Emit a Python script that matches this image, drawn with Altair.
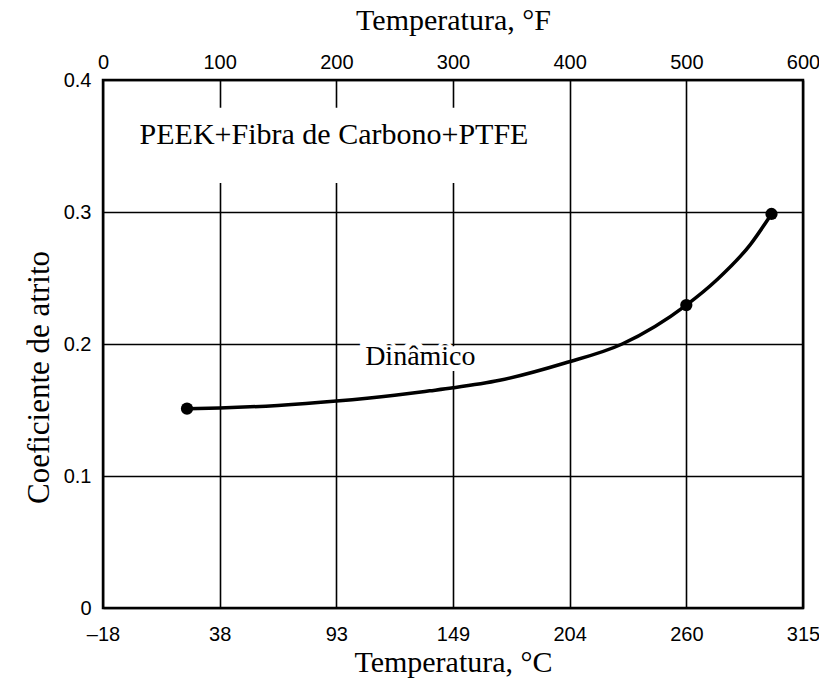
import altair as alt
import pandas as pd

# Curve readings (temperature in °F, friction coefficient)
curve_f = [72, 100, 150, 200, 250, 280, 300, 340, 396, 445, 500, 526, 555, 573]
curve_mu = [0.151, 0.1515, 0.1535, 0.1568, 0.1612, 0.1645, 0.1668, 0.1725, 0.1856, 0.200, 0.2295, 0.2485, 0.2755, 0.2985]
# Marked measurement points
dot_f = [72, 500, 573]
dot_mu = [0.151, 0.2295, 0.2985]

f_ticks = [0, 100, 200, 300, 400, 500, 600]
c_labels = ["\u201318", "38", "93", "149", "204", "260", "315"]
y_ticks = [0, 0.1, 0.2, 0.3, 0.4]

label_text = ["PEEK+Fibra de Carbono+PTFE", "Dinâmico"]
label_f = [198, 272]
label_mu = [0.358, 0.190]
label_size = [30, 28]
# white box behind the title label (data units)
box_f = [20]
box_f2 = [392]
box_mu = [0.322]
box_mu2 = [0.379]

curve_df = pd.DataFrame({"F": curve_f, "mu": curve_mu})
dot_df = pd.DataFrame({"F": dot_f, "mu": dot_mu})
label_df = pd.DataFrame({"F": label_f, "mu": label_mu, "t": label_text, "s": label_size})
box_df = pd.DataFrame({"F": box_f, "F2": box_f2, "mu": box_mu, "mu2": box_mu2})

c_expr = "[" + ",".join("'" + s + "'" for s in c_labels) + "][round(datum.value/100)]"

xscale = alt.Scale(domain=[0, 600], nice=False, zero=False)
yscale = alt.Scale(domain=[0, 0.4], nice=False)

LABEL_FONT = "Liberation Sans"
TITLE_FONT = "Liberation Serif"

x_bottom = alt.X("F:Q", scale=xscale, axis=alt.Axis(
    orient="bottom", values=f_ticks, labelExpr=c_expr, title="Temperatura, °C",
    grid=True, gridColor="black", gridWidth=1.6, gridOpacity=1, ticks=False,
    domain=False, labelFont=LABEL_FONT, labelFontSize=20, labelColor="black",
    labelPadding=16, titleFont=TITLE_FONT, titleFontSize=30, titleFontWeight="normal",
    titleColor="black", titlePadding=3, labelFlush=False))
y_axis = alt.Y("mu:Q", scale=yscale, axis=alt.Axis(
    values=y_ticks, labelExpr="datum.value == 0 ? '0' : format(datum.value, '.1f')",
    title="Coeficiente de atrito", grid=True, gridColor="black", gridWidth=1.6, gridOpacity=1,
    ticks=False, domain=False, labelFont=LABEL_FONT, labelFontSize=20, labelColor="black",
    labelPadding=12, titleFont=TITLE_FONT, titleFontSize=31, titleFontWeight="normal",
    titleColor="black", titlePadding=8, titleY=297, labelFlush=False))

grid_layer = alt.Chart(curve_df).mark_point(opacity=0).encode(x=x_bottom, y=y_axis)

top_axis_layer = alt.Chart(curve_df).mark_point(opacity=0).encode(
    x=alt.X("F:Q", scale=xscale, axis=alt.Axis(
        orient="top", values=f_ticks, format="d", title="Temperatura,  °F", grid=False,
        ticks=False, domain=False, labelFont=LABEL_FONT, labelFontSize=20,
        labelColor="black", labelPadding=8, titleFont=TITLE_FONT, titleFontSize=30,
        titleFontWeight="normal", titleColor="black", titlePadding=17, labelFlush=False)),
    y=alt.Y("mu:Q", scale=yscale))

xn = lambda f: alt.X(f, scale=xscale, axis=None)
yn = lambda f: alt.Y(f, scale=yscale)

box = alt.Chart(box_df).mark_rect(color="white", opacity=1).encode(
    x=xn("F:Q"), x2="F2:Q", y=yn("mu:Q"), y2="mu2:Q")
mask = alt.Chart(label_df).mark_text(
    font=TITLE_FONT, stroke="white", strokeWidth=12, color="white"
).encode(x=xn("F:Q"), y=yn("mu:Q"), text="t:N", size=alt.Size("s:Q", scale=None, legend=None))
labels = alt.Chart(label_df).mark_text(
    font=TITLE_FONT, color="black"
).encode(x=xn("F:Q"), y=yn("mu:Q"), text="t:N", size=alt.Size("s:Q", scale=None, legend=None))

line = alt.Chart(curve_df).mark_line(color="black", strokeWidth=3.5, interpolate="monotone").encode(
    x=xn("F:Q"), y=yn("mu:Q"))
dots = alt.Chart(dot_df).mark_circle(color="black", size=150, opacity=1).encode(
    x=xn("F:Q"), y=yn("mu:Q"))

chart = alt.layer(grid_layer, top_axis_layer, box, mask, labels, line, dots).resolve_axis(
    x="independent").properties(
    width=700, height=528,
    autosize=alt.AutoSizeParams(type="none"),
    padding={"left": 103, "top": 80, "right": 16, "bottom": 78},
    background="white",
).configure_view(stroke="black", strokeWidth=2.5)

chart.save("out.html", embed_options={"renderer": "svg", "actions": False})
